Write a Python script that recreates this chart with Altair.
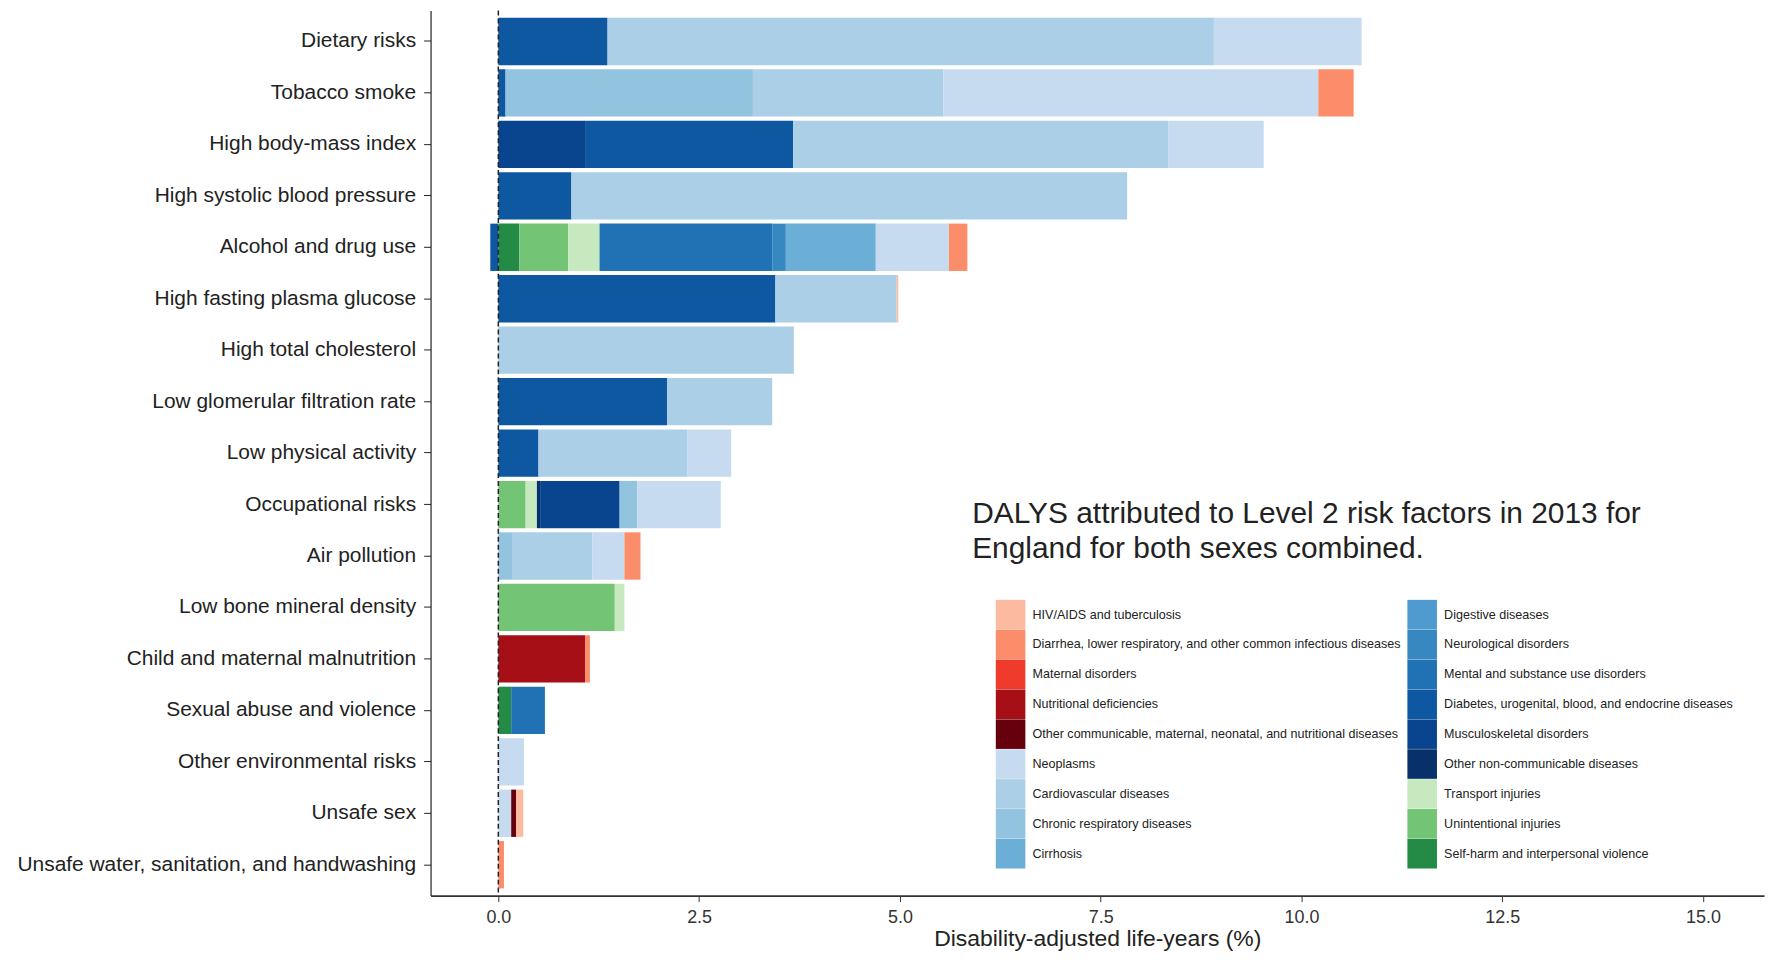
import altair as alt
import pandas as pd

FONT = "Liberation Sans"

risks = [
    "Dietary risks",
    "Tobacco smoke",
    "High body-mass index",
    "High systolic blood pressure",
    "Alcohol and drug use",
    "High fasting plasma glucose",
    "High total cholesterol",
    "Low glomerular filtration rate",
    "Low physical activity",
    "Occupational risks",
    "Air pollution",
    "Low bone mineral density",
    "Child and maternal malnutrition",
    "Sexual abuse and violence",
    "Other environmental risks",
    "Unsafe sex",
    "Unsafe water, sanitation, and handwashing",
]

cause_keys = ["HIV", "DIAR", "MAT", "NUTR", "OCMN", "NEO", "CVD", "CRD", "CIRR",
              "DIG", "NEURO", "MENTAL", "DIAB", "MSK", "ONCD", "TRANS", "UNINT", "SELF"]

cause_names = [
    "HIV/AIDS and tuberculosis",
    "Diarrhea, lower respiratory, and other common infectious diseases",
    "Maternal disorders",
    "Nutritional deficiencies",
    "Other communicable, maternal, neonatal, and nutritional diseases",
    "Neoplasms",
    "Cardiovascular diseases",
    "Chronic respiratory diseases",
    "Cirrhosis",
    "Digestive diseases",
    "Neurological disorders",
    "Mental and substance use disorders",
    "Diabetes, urogenital, blood, and endocrine diseases",
    "Musculoskeletal disorders",
    "Other non-communicable diseases",
    "Transport injuries",
    "Unintentional injuries",
    "Self-harm and interpersonal violence",
]

cause_colors = [
    "#fcbba1", "#fc8d6a", "#ef3b2c", "#a50f15", "#67000d",
    "#c6dbef", "#abcfe6", "#93c4df", "#6baed6", "#4f9bd0",
    "#3787c0", "#2171b5", "#0d58a1", "#08458e", "#08306b",
    "#c7e9c0", "#74c476", "#238b45",
]

# DALYs (%) per risk, by cause
dietary = [("DIAB", 1.36), ("CVD", 7.55), ("NEO", 1.84)]
tobacco = [("DIAB", 0.09), ("CRD", 3.08), ("CVD", 2.37), ("NEO", 4.67), ("DIAR", 0.44)]
bmi = [("MSK", 1.09), ("DIAB", 2.58), ("CVD", 4.67), ("NEO", 1.19)]
sbp = [("DIAB", 0.91), ("CVD", 6.92)]
alcohol = [("DIAB", -0.10), ("SELF", 0.26), ("UNINT", 0.61), ("TRANS", 0.39), ("MENTAL", 2.15),
           ("NEURO", 0.17), ("CIRR", 1.12), ("NEO", 0.91), ("DIAR", 0.23)]
fpg = [("DIAB", 3.45), ("CVD", 1.51), ("HIV", 0.02)]
cholesterol = [("CVD", 3.68)]
gfr = [("DIAB", 2.10), ("CVD", 1.31)]
physical = [("DIAB", 0.50), ("CVD", 1.85), ("NEO", 0.55)]
occupational = [("UNINT", 0.34), ("TRANS", 0.14), ("ONCD", 0.04), ("MSK", 0.99), ("CRD", 0.22), ("NEO", 1.04)]
air = [("CRD", 0.18), ("CVD", 0.99), ("NEO", 0.40), ("DIAR", 0.20)]
bone = [("UNINT", 1.45), ("TRANS", 0.12)]
malnutrition = [("NUTR", 1.08), ("DIAR", 0.06)]
sexual_abuse = [("SELF", 0.16), ("MENTAL", 0.42)]
other_env = [("NEO", 0.32)]
unsafe_sex = [("NEO", 0.16), ("OCMN", 0.06), ("HIV", 0.09)]
unsafe_water = [("DIAR", 0.07)]

risk_segments = [dietary, tobacco, bmi, sbp, alcohol, fpg, cholesterol, gfr, physical,
                 occupational, air, bone, malnutrition, sexual_abuse, other_env,
                 unsafe_sex, unsafe_water]

title_text = "DALYS attributed to Level 2 risk factors in 2013 for\n\u2005England for both sexes combined."

# ---- build table ----
key_to_idx = {k: i for i, k in enumerate(cause_keys)}
rows = []
for risk, segs in zip(risks, risk_segments):
    for key, val in segs:
        i = key_to_idx[key]
        rows.append({"risk": risk, "cause": cause_names[i], "value": val,
                     "ord": len(cause_keys) - 1 - i})
df = pd.DataFrame(rows)

y_enc = alt.Y(
    "risk:N",
    sort=risks,
    scale=alt.Scale(domain=risks, paddingInner=0.08, paddingOuter=0.14),
    axis=alt.Axis(title=None, labelFontSize=21, labelColor="#222", labelFont=FONT,
                  tickSize=7, tickColor="#222", domainColor="#222", domainWidth=1.2,
                  labelPadding=8, labelLimit=600),
)

x_scale = alt.Scale(domain=[-0.844, 15.76], nice=False, zero=False)

bars = alt.Chart(df).mark_bar().encode(
    x=alt.X(
        "value:Q",
        stack="zero",
        scale=x_scale,
        axis=alt.Axis(values=[0, 2.5, 5, 7.5, 10, 12.5, 15], format=".1f",
                      title="Disability-adjusted life-years (%)",
                      titleFontSize=23, titleFontWeight="normal", titleColor="#222",
                      titleFont=FONT, titlePadding=1,
                      labelFontSize=18, labelColor="#333", labelFont=FONT,
                      tickSize=6, tickColor="#333", domainColor="#333", domainWidth=1.8,
                      labelPadding=7),
    ),
    y=y_enc,
    color=alt.Color(
        "cause:N",
        scale=alt.Scale(domain=cause_names, range=cause_colors),
        legend=alt.Legend(
            title=None, orient="none", legendX=567, legendY=591, columns=2,
            symbolType="square", symbolSize=880, symbolStrokeWidth=0, symbolOpacity=1,
            labelFontSize=12.6, labelFont=FONT, labelColor="#222", labelOffset=7,
            labelLimit=600, rowPadding=0, columnPadding=6, padding=0, offset=0,
        ),
    ),
    order=alt.Order("ord:Q", sort="ascending"),
)

zero_line = alt.Chart(pd.DataFrame({"x": [0.0]})).mark_rule(
    color="#222", strokeDash=[5, 3], strokeWidth=1.5
).encode(x=alt.X("x:Q", scale=x_scale))

title_df = pd.DataFrame({"x": [5.90], "risk": ["Occupational risks"], "label": [title_text]})
title_mark = alt.Chart(title_df).mark_text(
    align="left", baseline="alphabetic", dy=19, fontSize=30, font=FONT,
    lineBreak="\n", lineHeight=34.5, color="#222",
).encode(x=alt.X("x:Q", scale=x_scale), y=y_enc, text="label:N")

chart = alt.layer(bars, zero_line, title_mark).properties(
    width=1338, height=888,
    autosize=alt.AutoSizeParams(type="none"),
    padding={"left": 424, "top": 1, "right": 3, "bottom": 58},
).configure_view(stroke=None).configure_axis(grid=False)

chart.save("out.html", embed_options={"renderer": "svg", "actions": False})
